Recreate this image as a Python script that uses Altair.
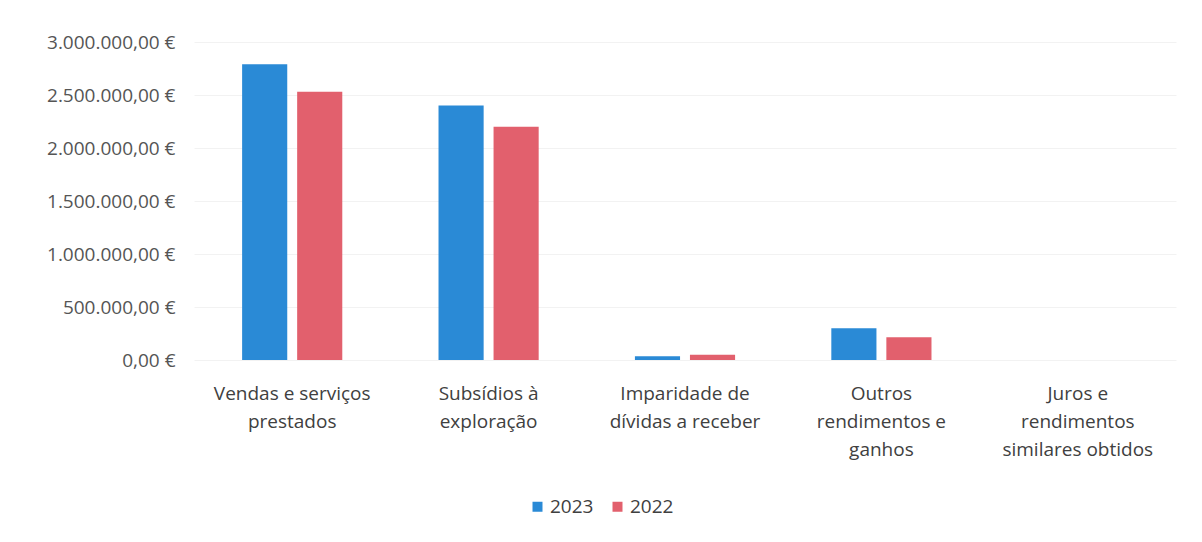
import altair as alt
import pandas as pd

categories = [
    "Vendas e serviços|prestados",
    "Subsídios à|exploração",
    "Imparidade de|dívidas a receber",
    "Outros|rendimentos e|ganhos",
    "Juros e|rendimentos|similares obtidos",
]
years = ["2023", "2022"]
values_2023 = [2790000, 2400000, 35000, 300000, 500]
values_2022 = [2530000, 2200000, 50000, 215000, 300]
y_ticks = [0, 500000, 1000000, 1500000, 2000000, 2500000, 3000000]
colors = ["#2a8ad6", "#e2606d"]

rows = []
for c, v23, v22 in zip(categories, values_2023, values_2022):
    rows.append({"cat": c, "year": "2023", "value": v23})
    rows.append({"cat": c, "year": "2022", "value": v22})
df = pd.DataFrame(rows)

font = "Open Sans"

chart = (
    alt.Chart(df)
    .mark_bar()
    .encode(
        x=alt.X(
            "cat:N",
            sort=categories,
            scale=alt.Scale(paddingInner=0.49, paddingOuter=0.245),
            axis=alt.Axis(
                title=None,
                labelAngle=0,
                labelExpr="split(datum.label, '|')",
                labelFontSize=19,
                labelLineHeight=28,
                labelColor="#404040",
                labelPadding=24,
                ticks=False,
                domain=False,
                grid=False,
                labelFont=font,
            ),
        ),
        xOffset=alt.XOffset(
            "year:N", sort=years, scale=alt.Scale(paddingInner=0.18, paddingOuter=0)
        ),
        y=alt.Y(
            "value:Q",
            scale=alt.Scale(domain=[0, 3000000], nice=False),
            axis=alt.Axis(
                title=None,
                values=y_ticks,
                format="$,.2f",
                labelFontSize=19,
                labelColor="#555555",
                labelFont=font,
                labelPadding=19,
                ticks=False,
                domain=False,
                grid=True,
                gridColor="#f2f2f2",
                minExtent=186,
                maxExtent=186,
            ),
        ),
        color=alt.Color(
            "year:N",
            sort=years,
            scale=alt.Scale(domain=years, range=colors),
            legend=alt.Legend(
                title=None,
                orient="none",
                legendX=334,
                legendY=455,
                direction="horizontal",
                symbolType="square",
                symbolSize=100,
                symbolStrokeWidth=0,
                labelFontSize=19,
                labelFont=font,
                labelColor="#404040",
                columnPadding=14,
                labelOffset=3,
            ),
        ),
    )
    .properties(
        width=982,
        height=318,
        padding={"left": 0, "top": 25, "right": 10, "bottom": 5},
    )
    .configure(
        locale=alt.Locale(
            number=alt.NumberLocale(
                decimal=",", thousands=".", grouping=[3], currency=["", " €"]
            )
        ),
        view=alt.ViewConfig(stroke=None),
    )
)

chart.save("out.html", embed_options={"renderer": "svg", "actions": False})
